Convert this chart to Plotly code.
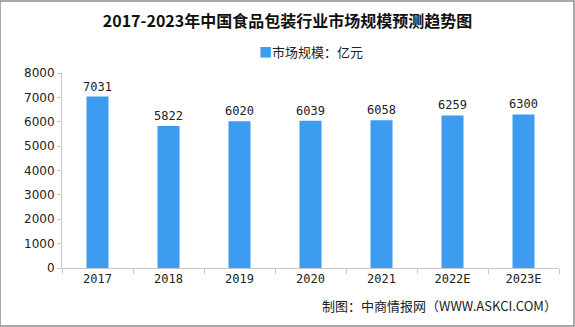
import plotly.graph_objects as go

categories = ["2017", "2018", "2019", "2020", "2021", "2022E", "2023E"]
values = [7031, 5822, 6020, 6039, 6058, 6259, 6300]
series_name = "市场规模：亿元"
title_text = "2017-2023年中国食品包装行业市场规模预测趋势图"
source_text = "制图：中商情报网（WWW.ASKCI.COM）"

font_cjk = "Noto Sans CJK SC, DejaVu Sans"
bar_color = "#3d9bf0"

fig = go.Figure()
fig.add_trace(go.Bar(
    x=categories, y=values, name=series_name,
    marker=dict(color=bar_color, line=dict(width=0)),
    width=0.31,
    text=[str(v) for v in values], textposition="outside",
    constraintext="none",
    textfont=dict(size=12, color="#222", family="DejaVu Sans Mono, Liberation Mono"),
    cliponaxis=False, showlegend=False,
))

fig.update_layout(
    width=575, height=327,
    margin=dict(l=62, r=16, t=73, b=59),
    paper_bgcolor="white", plot_bgcolor="white",
    title=dict(text=title_text, x=0.5, xanchor="center", y=0.935, yanchor="middle",
               font=dict(size=16, color="#111", family=font_cjk, weight="bold")),
    xaxis=dict(showline=True, linecolor="#c8c8c8", linewidth=1,
               ticks="outside", tickcolor="#c8c8c8", ticklen=5,
               tickson="boundaries",
               tickfont=dict(size=12, color="#222", family="DejaVu Sans Mono, Liberation Mono")),
    yaxis=dict(range=[0, 8000], dtick=1000, showgrid=False, showline=True,
               linecolor="#c8c8c8", linewidth=1, ticks="outside", tickcolor="#c8c8c8", ticklen=4,
               tickfont=dict(size=12, color="#222", family="DejaVu Sans, Liberation Sans"),
               zeroline=False),
    bargap=0.69,
)

# legend drawn as annotation (small square marker)
fig.add_annotation(text=f"<span style='color:{bar_color}'>■</span>{series_name}",
                   xref="paper", yref="paper", x=0.5, xanchor="center",
                   y=1 + 21/195, yanchor="middle", showarrow=False,
                   font=dict(size=13, color="#222", family=font_cjk))

fig.add_annotation(text=source_text, xref="paper", yref="paper", x=1.0, xanchor="right",
                   y=-37/195, yanchor="middle", showarrow=False,
                   font=dict(size=13, color="#222", family=font_cjk))

fig.add_shape(type="rect", xref="paper", yref="paper",
              x0=-62/497, x1=1+15/497, y0=-58/195, y1=1+72/195,
              line=dict(color="#8c8c8c", width=1.5), fillcolor="rgba(0,0,0,0)", layer="above")

fig.write_html("out.html")
